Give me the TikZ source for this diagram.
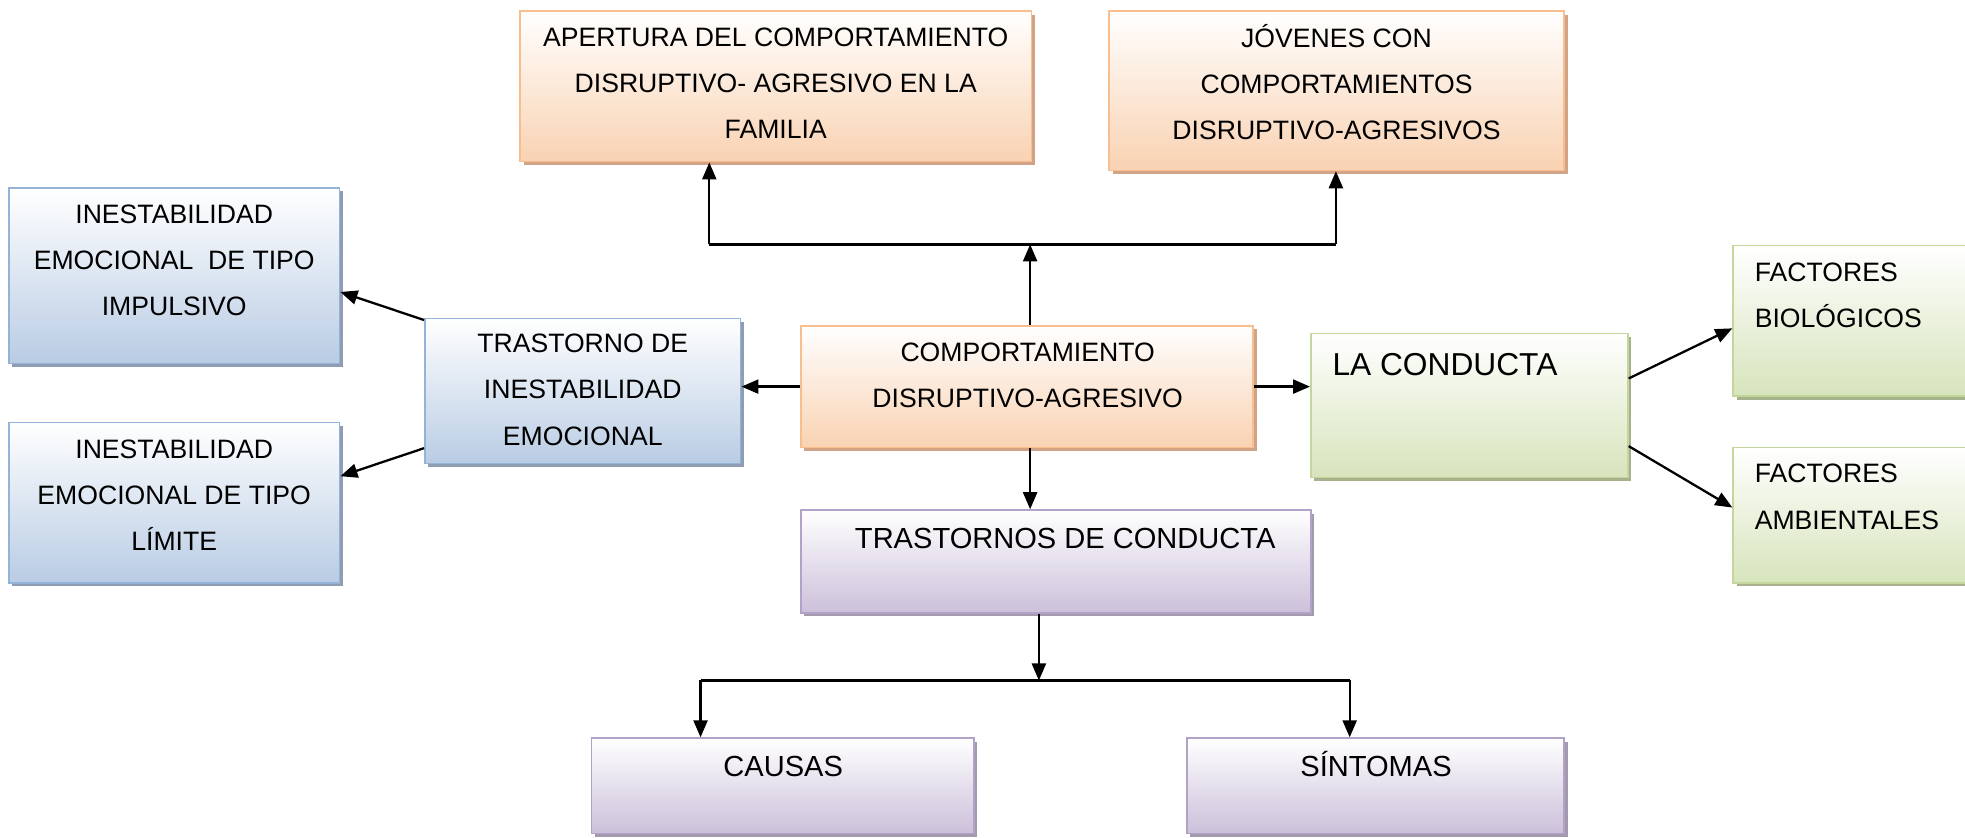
\documentclass[tikz,border=0pt]{standalone}
\usepackage{fontspec}
\setmainfont{Liberation Sans}
\usetikzlibrary{arrows.meta,shadows,calc}
\definecolor{orangeline}{HTML}{F8BE8E}
\definecolor{orangefill}{HTML}{F9D2B2}
\definecolor{orangeshade}{HTML}{D2A487}
\definecolor{blueline}{HTML}{95B3D7}
\definecolor{bluefill}{HTML}{B9CCE4}
\definecolor{blueshade}{HTML}{8E9DB3}
\definecolor{greenline}{HTML}{C3D69B}
\definecolor{greenfill}{HTML}{D7E4BC}
\definecolor{greenshade}{HTML}{A7B28D}
\definecolor{purpleline}{HTML}{B3A2C7}
\definecolor{purplefill}{HTML}{CBC0DA}
\definecolor{purpleshade}{HTML}{A39AAD}
\tikzset{
  box/.style={rectangle, line width=0.9pt, inner sep=0pt},
  orangebox/.style={box, draw=orangeline, top color=white, bottom color=orangefill,
    drop shadow={shadow xshift=0.07cm, shadow yshift=-0.07cm, fill=orangeshade, opacity=1}},
  bluebox/.style={box, draw=blueline, top color=white, bottom color=bluefill,
    drop shadow={shadow xshift=0.07cm, shadow yshift=-0.07cm, fill=blueshade, opacity=1}},
  greenbox/.style={box, draw=greenline, top color=white, bottom color=greenfill,
    drop shadow={shadow xshift=0.07cm, shadow yshift=-0.07cm, fill=greenshade, opacity=1}},
  purplebox/.style={box, draw=purpleline, top color=white, bottom color=purplefill,
    drop shadow={shadow xshift=0.07cm, shadow yshift=-0.07cm, fill=purpleshade, opacity=1}},
  txt/.style={align=center, inner sep=0pt, font=\fontsize{15.1}{26.2}\selectfont},
  bigtxt/.style={anchor=base, inner sep=0pt, font=\fontsize{16.5}{26.2}\selectfont},
  link/.style={-{Triangle[length=0.34cm,width=0.28cm]}, line width=1.3pt},
}
\begin{document}
\begin{tikzpicture}
        \path[use as bounding box, clip] (0,0) rectangle (39.2,16.7);

        % Top row
        \node[orangebox, minimum width=10.2cm, minimum height=3cm] (apertura) at (15.475,14.975) {};
        \node[txt] (aperturaT) at (15.475,15.0375) {APERTURA DEL COMPORTAMIENTO\\DISRUPTIVO- AGRESIVO EN LA\\FAMILIA};
        \node[orangebox, minimum width=9.075cm, minimum height=3.175cm] (jovenes) at (26.6625,14.8875) {};
        \node[txt] (jovenesT) at (26.6625,15.06) {JÓVENES CON\\COMPORTAMIENTOS\\DISRUPTIVO-AGRESIVOS};

        % Left side
        \node[bluebox, minimum width=6.6cm, minimum height=3.5cm] (impulsivo) at (3.475,11.2) {};
        \node[txt] (impulsivoT) at (3.475,11.5) {INESTABILIDAD\\EMOCIONAL\ \ DE TIPO\\IMPULSIVO};
        \node[bluebox, minimum width=6.6cm, minimum height=3.2cm] (limite) at (3.475,6.675) {};
        \node[txt] (limiteT) at (3.475,6.825) {INESTABILIDAD\\EMOCIONAL DE TIPO\\LÍMITE};
        \node[bluebox, minimum width=6.3cm, minimum height=2.9cm] (trastinest) at (11.625,8.9) {};
        \node[txt] (trastinestT) at (11.625,8.925) {TRASTORNO DE\\INESTABILIDAD\\EMOCIONAL};

        % Centre
        \node[orangebox, minimum width=9.025cm, minimum height=2.425cm] (comp) at (20.4875,8.9875) {};
        \node[txt] (compT) at (20.5,9.2125) {COMPORTAMIENTO\\DISRUPTIVO-AGRESIVO};

        % Right side
        \node[greenbox, minimum width=6.325cm, minimum height=2.875cm] (conducta) at (29.3125,8.6125) {};
        \node[anchor=west, inner sep=0pt, font=\fontsize{18}{22}\selectfont] (conductaT) at (26.575,9.425) {LA CONDUCTA};
        \node[greenbox, minimum width=4.925cm, minimum height=3cm] (bio) at (37.0375,10.3) {};
        \node[txt, align=left, anchor=west] (bioT) at (35.0,10.8125) {FACTORES\\BIOLÓGICOS};
        \node[greenbox, minimum width=4.925cm, minimum height=2.7cm] (amb) at (37.0375,6.425) {};
        \node[txt, align=left, anchor=west] (ambT) at (35.0,6.7875) {FACTORES\\AMBIENTALES};

        % Bottom
        \node[purplebox, minimum width=10.175cm, minimum height=2.05cm] (trastcond) at (21.0625,5.5) {};
        \node[bigtxt] (trastcondT) at (21.25,5.767) {TRASTORNOS DE CONDUCTA};
        \node[purplebox, minimum width=7.625cm, minimum height=1.9cm] (causas) at (15.6125,1.025) {};
        \node[bigtxt] (causasT) at (15.625,1.217) {CAUSAS};
        \node[purplebox, minimum width=7.525cm, minimum height=1.9cm] (sintomas) at (27.4375,1.025) {};
        \node[bigtxt] (sintomasT) at (27.45,1.217) {SÍNTOMAS};

        % Junctions
        \coordinate (jtop) at (20.55,11.825);
        \coordinate (jtl) at (14.15,11.825);
        \coordinate (jtr) at (26.65,11.825);
        \coordinate (jbot) at (20.725,3.125);
        \coordinate (jbl) at (13.975,3.125);
        \coordinate (jbr) at (26.925,3.125);

        % Arrows up
        \draw[link] (jtop |- comp.north) -- (jtop);
        \draw[line width=1.3pt] (jtl) -- (jtr);
        \draw[link] (jtl) -- (jtl |- apertura.south);
        \draw[link] (jtr) -- (jtr |- jovenes.south);

        % Arrows sideways
        \draw[link] (comp.west) -- (comp.west -| trastinest.east);
        \draw[link] (comp.east) -- (comp.east -| conducta.west);
        \draw[link] ([yshift=-0.05cm]trastinest.north west) -- ([yshift=-0.325cm]impulsivo.east);
        \draw[link] ([yshift=0.325cm]trastinest.south west) -- ([yshift=0.525cm]limite.east);
        \draw[link] ([yshift=0.5375cm]conducta.east) -- ([yshift=-0.15cm]bio.west);
        \draw[link] ([yshift=-0.8125cm]conducta.east) -- ([yshift=0.15cm]amb.west);

        % Arrows down
        \draw[link] (jtop |- comp.south) -- (jtop |- trastcond.north);
        \draw[link] (jbot |- trastcond.south) -- (jbot);
        \draw[line width=1.3pt] (jbl) -- (jbr);
        \draw[link] (jbl) -- (jbl |- causas.north);
        \draw[link] (jbr) -- (jbr |- sintomas.north);

      \end{tikzpicture}
\end{document}
